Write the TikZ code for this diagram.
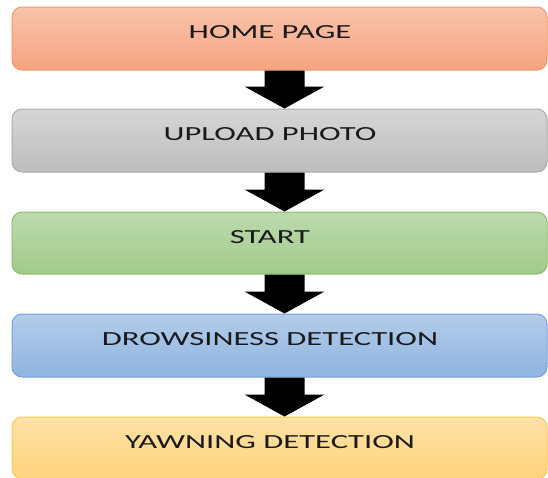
\documentclass[tikz,border=0pt]{standalone}
\usepackage{fontspec}
\setmainfont{Carlito}
\usetikzlibrary{calc}
\definecolor{orT}{HTML}{F9C3AB}
\definecolor{orB}{HTML}{F5A482}
\definecolor{orD}{HTML}{F29A66}
\definecolor{grT}{HTML}{D6D6D6}
\definecolor{grB}{HTML}{BDBDBD}
\definecolor{grD}{HTML}{ABABAB}
\definecolor{gnT}{HTML}{BCDAAE}
\definecolor{gnB}{HTML}{A1CB8A}
\definecolor{gnD}{HTML}{8DBE70}
\definecolor{blT}{HTML}{B3CCEA}
\definecolor{blB}{HTML}{8FB4E0}
\definecolor{blD}{HTML}{78A2D4}
\definecolor{ylT}{HTML}{FFE2A6}
\definecolor{ylB}{HTML}{FFD37E}
\definecolor{ylD}{HTML}{FFC84A}
\definecolor{txt}{HTML}{1A1A1A}
\tikzset{
  box/.style={rectangle, rounded corners=10pt, line width=1pt, minimum width=535pt, inner sep=0pt},
  lbl/.style={inner sep=0pt, text=txt, font=\fontsize{20}{24}\selectfont},
  blockarrow/.style={fill=black, draw=none}
}
\newcommand{\wtext}[1]{\scalebox{1.63}[1]{#1}}
\begin{document}
\begin{tikzpicture}[x=1pt,y=-1pt]
\useasboundingbox (0,0) rectangle (548,477);
\clip (0,0) rectangle (548,477);
\node[box, minimum height=63pt, draw=orD, top color=orT, bottom color=orB] (b1) at (279.5,38.5) {};
\node[box, minimum height=63pt, draw=grD, top color=grT, bottom color=grB] (b2) at (279.5,140.5) {};
\node[box, minimum height=62pt, draw=gnD, top color=gnT, bottom color=gnB] (b3) at (279.5,243) {};
\node[box, minimum height=63pt, draw=blD, top color=blT, bottom color=blB] (b4) at (279.5,345.5) {};
\node[box, minimum height=62pt, draw=ylD, top color=ylT, bottom color=ylB] (b5) at (279.5,448) {};
\node[lbl] (t1) at ($(b1.north)+(-9.5,26)$) {\wtext{HOME PAGE}};
\node[lbl] (t2) at ($(b2.north)+(-9.5,26)$) {\wtext{UPLOAD PHOTO}};
\node[lbl] (t3) at ($(b3.north)+(-9.5,26)$) {\wtext{START}};
\node[lbl] (t4) at ($(b4.north)+(-9.5,26)$) {\wtext{DROWSINESS DETECTION}};
\node[lbl] (t5) at ($(b5.north)+(-9.5,26)$) {\wtext{YAWNING DETECTION}};
\foreach \a/\b in {b1/b2,b2/b3,b3/b4,b4/b5}{
  \fill[blockarrow] ($(\a.south)+(-15,0)$) -- ($(\a.south)+(25,0)$)
     -- ($(\b.north)+(25,-22)$) -- ($(\b.north)+(45,-22)$)
     -- ($(\b.north)+(5,0)$) -- ($(\b.north)+(-35,-22)$)
     -- ($(\b.north)+(-15,-22)$) -- cycle;
}
\end{tikzpicture}
\end{document}
